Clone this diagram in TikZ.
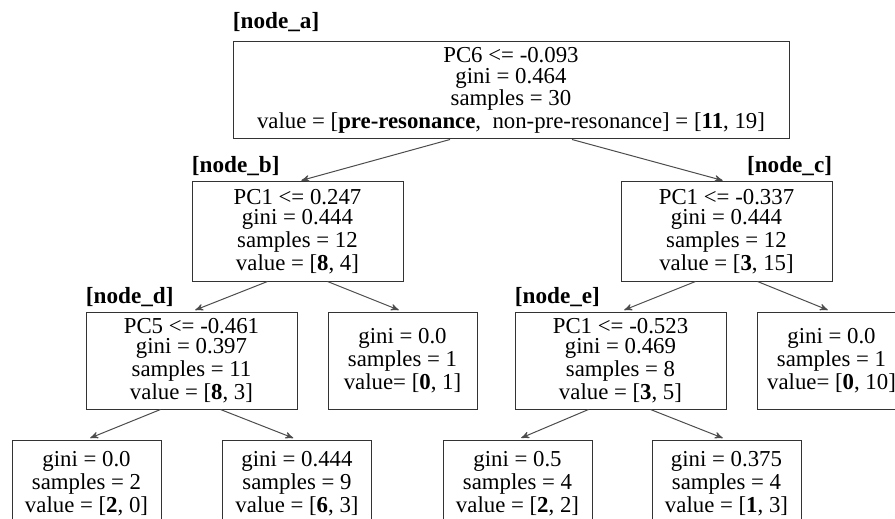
\documentclass[tikz,border=0pt]{standalone}
\usepackage{fontspec}
\setmainfont{Liberation Serif}
\usetikzlibrary{arrows}
\usetikzlibrary{calc}
\usetikzlibrary{positioning}

\begin{document}
\begin{tikzpicture}[x=0.5pt,y=-0.5pt,font=\fontsize{11.4}{10.2}\selectfont,
	treebox/.style={draw=black!80,line width=0.5pt,align=center,inner sep=0pt},
	splitbox/.style={treebox,minimum width=105.5pt,minimum height=48.5pt},
	leafbox/.style={treebox,minimum width=74.5pt,minimum height=48.5pt},
	nodetag/.style={font=\fontsize{11.6}{12}\selectfont\bfseries,inner sep=0pt},
	arrowline/.style={->,>=stealth',draw=black!70,line width=0.5pt,shorten >=2pt}]
					\clip (0,0) rectangle (895,519);
					% root
					\node[treebox,minimum width=278pt,minimum height=48.5pt] (a) at (511,90.5)
						{PC6 <= -0.093\\gini = 0.464\\samples = 30\\value = [\textbf{pre-resonance}, \ non-pre-resonance] = [\textbf{11}, 19]};
					% first split
					\node[splitbox,minimum height=49.5pt] (b) at (297.5,231.5) {PC1 <= 0.247\\gini = 0.444\\samples = 12\\value = [\textbf{8}, 4]};
					\node[splitbox,minimum height=49.5pt] (c) at (726.5,231.5) {PC1 <= -0.337\\gini = 0.444\\samples = 12\\value = [\textbf{3}, 15]};
					% second split
					\node[splitbox] (d) at (191.5,360.5) {PC5 <= -0.461\\gini = 0.397\\samples = 11\\value = [\textbf{8}, 3]};
					\node[leafbox] (b2) at (402.5,360.5) {gini = 0.0\\samples = 1\\value= [\textbf{0}, 1]};
					\node[splitbox] (e) at (620.5,360.5) {PC1 <= -0.523\\gini = 0.469\\samples = 8\\value = [\textbf{3}, 5]};
					\node[leafbox] (c2) at (831.5,360.5) {gini = 0.0\\samples = 1\\value= [\textbf{0}, 10]};
					% leaves
					\foreach \name/\xpos/\gini/\samples/\first/\second in {d1/86.5/0.0/2/2/0, d2/297/0.444/9/6/3, e1/517.5/0.5/4/2/2, e2/726.5/0.375/4/1/3} {
						\node[leafbox,minimum height=43.5pt] (\name) at (\xpos,483.5) {gini = \gini\\samples = \samples\\value = [\textbf{\first}, \second]};
					}
					% tags
					\node[nodetag,above right=4.5pt and 0pt of a.north west] (taga) {[node\_a]};
					\node[nodetag,above right=2.5pt and 0pt of b.north west] (tagb) {[node\_b]};
					\node[nodetag,above left=2.5pt and 0pt of c.north east] (tagc) {[node\_c]};
					\node[nodetag,above right=2pt and 0pt of d.north west] (tagd) {[node\_d]};
					\node[nodetag,above right=2pt and 0pt of e.north west] (tage) {[node\_e]};
					% edges
					\foreach \from/\to/\dx in {a/b/-61, a/c/61, b/d/-30, b/b2/30, c/e/-31, c/c2/31, d/d1/-31, d/d2/29, e/e1/-32, e/e2/30} {
						\draw[arrowline] ($(\from.south)+(\dx,0)$) -- (\to.north);
					}
				\end{tikzpicture}
\end{document}
